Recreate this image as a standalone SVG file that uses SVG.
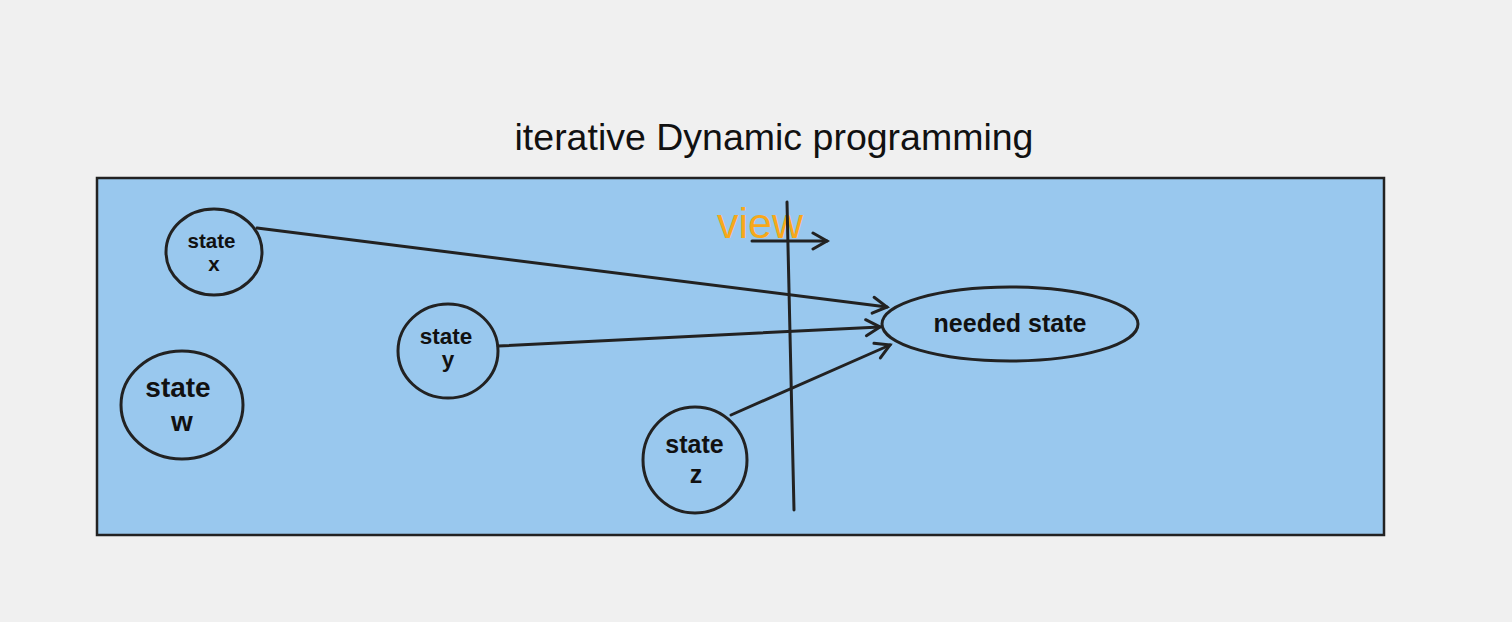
<svg xmlns="http://www.w3.org/2000/svg" width="1512" height="622" viewBox="0 0 1512 622">
<style>
.node{fill:none;stroke:#222;stroke-width:3}
.lbl{font-family:"Liberation Sans",Arial,sans-serif;font-weight:bold;fill:#111;text-anchor:middle}
.edge{stroke:#222;stroke-width:3;fill:none;stroke-linecap:round}
</style>
<defs>
<marker id="arr" markerUnits="userSpaceOnUse" markerWidth="24" markerHeight="24" refX="16" refY="9" orient="auto" viewBox="0 0 24 18">
<path d="M2,1 L16,9 L2,17" fill="none" stroke="#222" stroke-width="3" stroke-linecap="round" stroke-linejoin="miter"/>
</marker>
</defs>
<rect width="1512" height="622" fill="#f0f0f0"/>
<text x="774" y="150" font-family="'Liberation Sans',Arial,sans-serif" font-size="37.5" fill="#111" text-anchor="middle">iterative Dynamic programming</text>
<g id="frame"><rect x="97" y="178" width="1287" height="357" fill="#99c8ee" stroke="#222" stroke-width="2.5"/></g>
<g id="view">
<text x="717" y="238" font-family="'Liberation Sans',Arial,sans-serif" font-size="43" fill="#f7a81b">view</text>
</g>
<g id="connectors">
<line class="edge" x1="787" y1="202" x2="794" y2="510"/>
<line class="edge" x1="752" y1="241" x2="827" y2="241" marker-end="url(#arr)"/>
<line class="edge" x1="257" y1="228" x2="887" y2="307" marker-end="url(#arr)"/>
<line class="edge" x1="498" y1="346" x2="880" y2="327" marker-end="url(#arr)"/>
<line class="edge" x1="731" y1="415" x2="890" y2="345" marker-end="url(#arr)"/>
</g>
<g id="state-x"><ellipse class="node" cx="214" cy="252" rx="48" ry="43"/><text class="lbl" font-size="20.5" x="211.5" y="248">state</text><text class="lbl" font-size="20.5" x="214" y="271">x</text></g>
<g id="state-w"><ellipse class="node" cx="182" cy="405" rx="61" ry="54"/><text class="lbl" font-size="28" x="178" y="397">state</text><text class="lbl" font-size="28" x="182" y="431">w</text></g>
<g id="state-y"><ellipse class="node" cx="448" cy="351" rx="50" ry="47"/><text class="lbl" font-size="22.5" x="446" y="344">state</text><text class="lbl" font-size="22.5" x="448" y="367">y</text></g>
<g id="state-z"><ellipse class="node" cx="695" cy="460" rx="52" ry="53"/><text class="lbl" font-size="25" x="694.5" y="453">state</text><text class="lbl" font-size="25" x="696" y="483">z</text></g>
<g id="needed"><ellipse class="node" cx="1010" cy="324" rx="128" ry="37"/><text class="lbl" font-size="25" x="1010" y="332">needed state</text></g>
</svg>
